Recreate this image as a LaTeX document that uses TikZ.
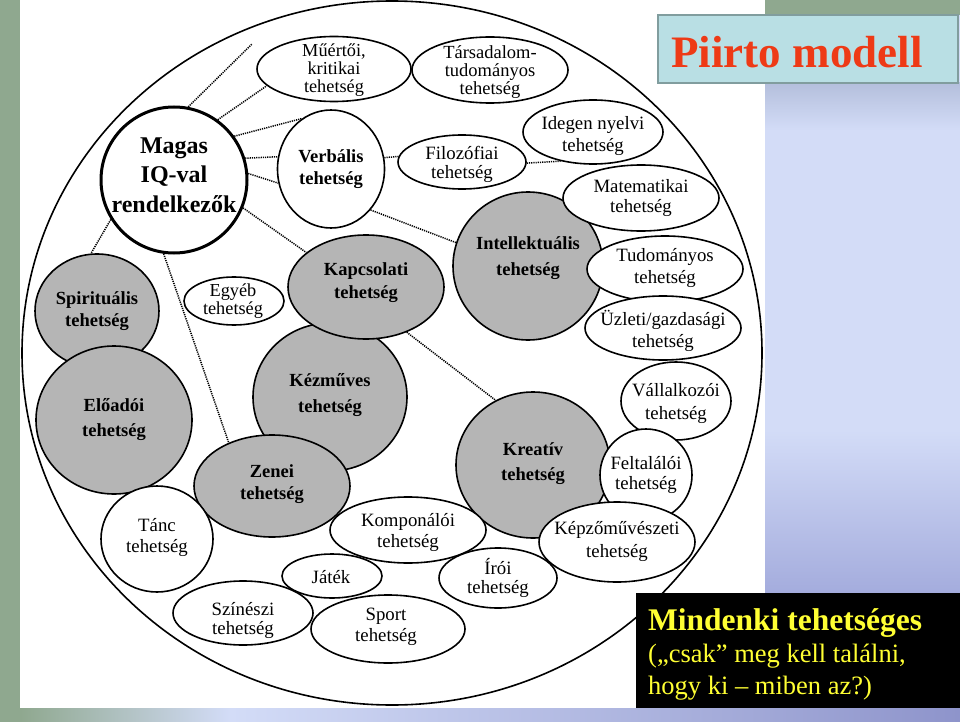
\documentclass[tikz,border=0pt]{standalone}
\usepackage{fontspec}
\setmainfont{Liberation Serif}
\usetikzlibrary{shapes.geometric}
\definecolor{sage}{HTML}{8FA88F}
\definecolor{lav}{HTML}{D3DCF7}
\definecolor{lavgray}{HTML}{B4BFDC}
\definecolor{peri}{HTML}{A2AADC}
\definecolor{peridark}{HTML}{8E94CB}
\definecolor{grayfill}{HTML}{B5B5B5}
\definecolor{titlefill}{HTML}{B9DFE4}
\definecolor{titleline}{HTML}{819D9E}
\definecolor{titlered}{HTML}{EE3A16}
\definecolor{yel}{HTML}{FFFF33}
\begin{document}
\begin{tikzpicture}[x=1pt,y=-1pt]
\tikzset{
 shp/.style={shape=ellipse, draw=black, line width=1.6pt, inner sep=0pt, fill=white},
 gr/.style={shp, fill=grayfill},
 lab/.style={align=center, inner sep=0pt, font=\fontsize{18.8}{#1}\selectfont},
 lab/.default=21,
 blab/.style={align=center, inner sep=0pt, font=\fontsize{18.5}{#1}\selectfont\bfseries},
 blab/.default=24,
 dotl/.style={line width=1.5pt, dash pattern=on 1.2pt off 1.0pt},
}
\useasboundingbox (0,0) rectangle (960,722);
% background
\fill[lav] (0,0) rectangle (960,722);
\fill[sage] (0,0) rectangle (20,722);
\fill[sage] (765,0) rectangle (960,15);
\shade[top color=lavgray, bottom color=lav] (765,83) rectangle (960,130);
\shade[top color=lav, bottom color=peri] (765,430) rectangle (960,600);
\shade[left color=sage, right color=lav] (20,708) rectangle (230,722);
\shade[left color=lav, right color=peridark] (230,708) rectangle (960,722);
\fill[white] (20,0) rectangle (765,708);
% title
\node[draw=titleline, line width=2pt, fill=titlefill, minimum width=300pt, minimum height=68pt, inner sep=0pt] (titlebox) at (808,49) {};
\node[text=titlered, font=\fontsize{45}{50}\selectfont\bfseries, inner sep=0pt] (title) at (797,52) {Piirto modell};
% outer ellipse
\draw[line width=1.6pt, fill=white] (392,353) ellipse [x radius=370pt, y radius=352pt];
% nodes
\node[gr, minimum width=124pt, minimum height=114pt] (spirit) at (97,311) {};
\node[blab=22] (spirit-t) at (spirit) {Spirituális\\tehetség};
\node[gr, minimum width=156pt, minimum height=148pt] (eloadoi) at (114,420) {};
\node[blab=25] (eloadoi-t) at (eloadoi) {Előadói\\tehetség};
\node[shp, line width=3pt, minimum width=146pt, minimum height=146pt] (magas) at (174,180) {};
\node[align=center, inner sep=0pt, font=\fontsize{24}{29.5}\selectfont\bfseries] (magas-t) at (174,175) {Magas\\IQ-val\\rendelkezők};
\node[shp, minimum width=154pt, minimum height=65pt] (mu) at (334,69) {};
\node[lab=18, font=\fontsize{18.3}{18}\selectfont] (mu-t) at (334,70) {Műértői,\\kritikai\\tehetség};
\node[shp, minimum width=156pt, minimum height=66pt] (tars) at (490,70) {};
\node[lab=18, font=\fontsize{18.5}{18}\selectfont] (tars-t) at (490,72) {Társadalom-\\tudományos\\tehetség};
\node[shp, minimum width=107pt, minimum height=118pt] (verb) at (331,169) {};
\node[blab=22] (verb-t) at (331,169) {Verbális\\tehetség};
\node[shp, minimum width=128pt, minimum height=54pt] (filo) at (462,162) {};
\node[lab=19] (filo-t) at (462,164) {Filozófiai\\tehetség};
\node[shp, minimum width=140pt, minimum height=64pt] (idegen) at (593,132) {};
\node[lab=22] (idegen-t) at (593,136) {Idegen nyelvi\\tehetség};
\node[gr, minimum width=150pt, minimum height=148pt] (intel) at (528,266) {};
\node[blab=26] (intel-t) at (528,258) {Intellektuális\\tehetség};
\node[shp, minimum width=156pt, minimum height=66pt] (mat) at (641,198) {};
\node[lab=20] (mat-t) at (641,198) {Matematikai\\tehetség};
\node[shp, minimum width=156pt, minimum height=66pt] (tud) at (665,269) {};
\node[lab=22] (tud-t) at (665,268) {Tudományos\\tehetség};
\node[shp, minimum width=156pt, minimum height=64pt] (uzl) at (663,328) {};
\node[lab=22] (uzl-t) at (663,331) {Üzleti/gazdasági\\tehetség};
\node[shp, minimum width=110pt, minimum height=78pt] (vall) at (676,401) {};
\node[lab=23] (vall-t) at (676,403) {Vállalkozói\\tehetség};
\node[gr, minimum width=154pt, minimum height=146pt] (kreativ) at (533,465) {};
\node[blab=25] (kreativ-t) at (533,464) {Kreatív\\tehetség};
\node[shp, minimum width=92pt, minimum height=92pt] (felt) at (646,475) {};
\node[lab=20] (felt-t) at (646,475) {Feltalálói\\tehetség};
\node[shp, minimum width=156pt, minimum height=80pt] (kepzo) at (617,542) {};
\node[lab=23] (kepzo-t) at (617,541) {Képzőművészeti\\tehetség};
\node[gr, minimum width=154pt, minimum height=148pt] (kezm) at (330,397) {};
\node[blab=26] (kezm-t) at (330,395) {Kézműves\\tehetség};
\node[gr, minimum width=156pt, minimum height=104pt] (kapcs) at (366,287) {};
\node[blab=23] (kapcs-t) at (366,283) {Kapcsolati\\tehetség};
\node[gr, minimum width=156pt, minimum height=102pt] (zenei) at (272,486) {};
\node[blab=22] (zenei-t) at (272,484) {Zenei\\tehetség};
\node[shp, minimum width=112pt, minimum height=106pt] (tanc) at (157,539) {};
\node[lab=21] (tanc-t) at (157,537) {Tánc\\tehetség};
\node[shp, minimum width=100pt, minimum height=48pt] (egyeb) at (234,301) {};
\node[lab=18, font=\fontsize{18.3}{18}\selectfont] (egyeb-t) at (233,301) {Egyéb\\tehetség};
\node[shp, minimum width=156pt, minimum height=66pt] (kompon) at (408,530) {};
\node[lab=21] (kompon-t) at (408,532) {Komponálói\\tehetség};
\node[shp, minimum width=118pt, minimum height=60pt] (iroi) at (498,578) {};
\node[lab=18.5] (iroi-t) at (498,578) {Írói\\tehetség};
\node[shp, minimum width=100pt, minimum height=44pt] (jatek) at (332,576) {};
\node[lab] (jatek-t) at (331,577) {Játék};
\node[shp, minimum width=154pt, minimum height=68pt] (sport) at (388,629) {};
\node[lab=21] (sport-t) at (386,627) {Sport\\tehetség};
\node[shp, minimum width=140pt, minimum height=64pt] (szin) at (243,613) {};
\node[lab=19] (szin-t) at (243,620) {Színészi\\tehetség};
% dotted connectors
\coordinate (topend) at (252,44);
\draw[dotl] (magas.79) -- (topend);
\draw[dotl] (magas.54) -- (mu.194);
\draw[dotl] (magas.36) -- (verb.120);
\draw[dotl] (magas.17) -- (verb.167);
\draw[dotl] (magas.5) -- (verb.195);
\draw[dotl] (magas.338) -- (kapcs.150);
\draw[dotl] (magas.212) -- (spirit.96);
\draw[dotl] (magas.262) -- (zenei.135);
\draw[dotl] (verb.12) -- (filo.175);
\draw[dotl] (filo.359) -- (idegen.222);
\draw[dotl] (verb.314) -- (intel.162);
\draw[dotl] (kapcs.312) -- (kreativ.120);
% black box
\fill[black] (636,593) rectangle (960,708);
\node[anchor=north west, align=left, inner sep=0pt, text=yel, font=\fontsize{26.5}{32}\selectfont] (msg) at (648,608)
 {{\fontsize{31.5}{32}\selectfont\bfseries Mindenki tehetséges}\\(„csak” meg kell találni,\\hogy ki – miben az?)};
\end{tikzpicture}
\end{document}
